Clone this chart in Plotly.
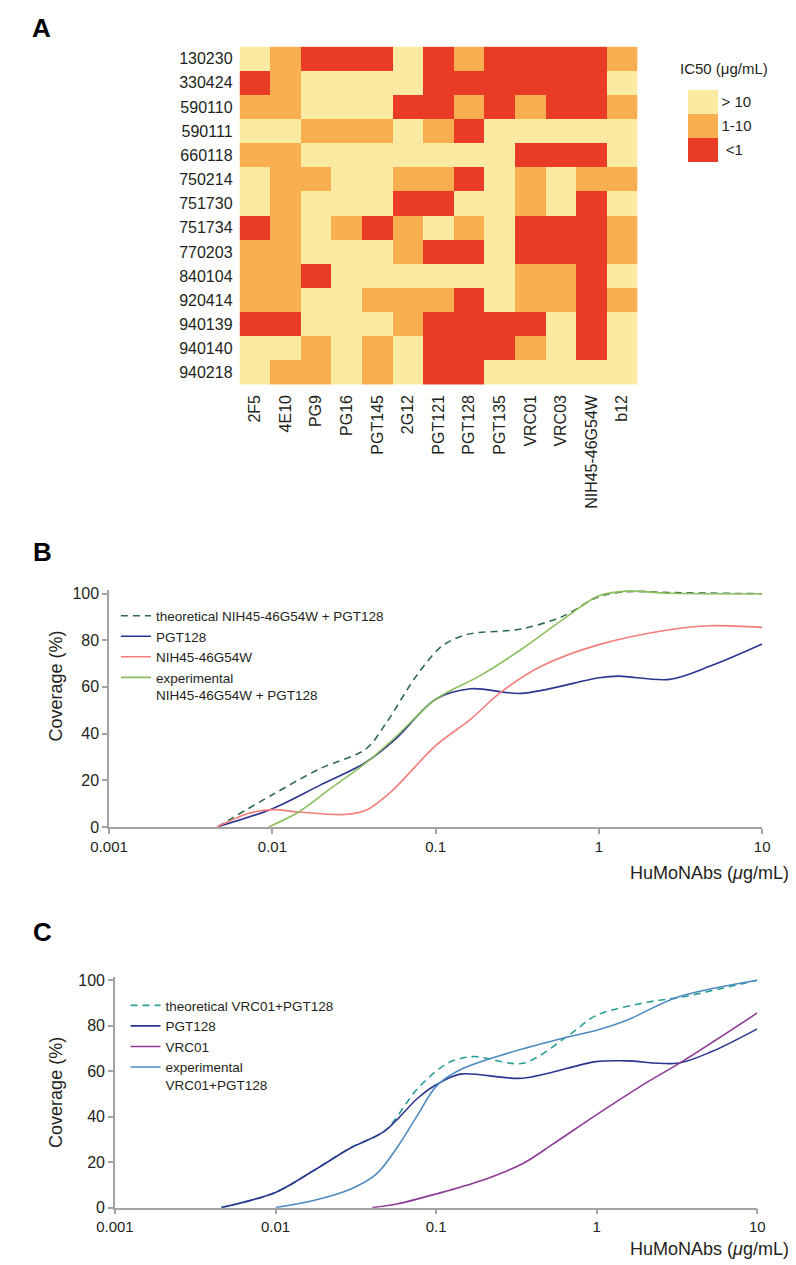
import plotly.graph_objects as go

W, H = 796, 1265

# ---------------- Panel A data ----------------
viruses = ["130230", "330424", "590110", "590111", "660118", "750214", "751730",
           "751734", "770203", "840104", "920414", "940139", "940140", "940218"]
antibodies = ["2F5", "4E10", "PG9", "PG16", "PGT145", "2G12", "PGT121", "PGT128",
              "PGT135", "VRC01", "VRC03", "NIH45-46G54W", "b12"]
# 0 = "> 10", 1 = "1-10", 2 = "<1"  (IC50, ug/mL)
ic50_class = [
    [0, 1, 2, 2, 2, 0, 2, 1, 2, 2, 2, 2, 1],
    [2, 1, 0, 0, 0, 0, 2, 2, 2, 2, 2, 2, 0],
    [1, 1, 0, 0, 0, 2, 2, 1, 2, 1, 2, 2, 1],
    [0, 0, 1, 1, 1, 0, 1, 2, 0, 0, 0, 0, 0],
    [1, 1, 0, 0, 0, 0, 0, 0, 0, 2, 2, 2, 0],
    [0, 1, 1, 0, 0, 1, 1, 2, 0, 1, 0, 1, 1],
    [0, 1, 0, 0, 0, 2, 2, 0, 0, 1, 0, 2, 0],
    [2, 1, 0, 1, 2, 1, 0, 1, 0, 2, 2, 2, 1],
    [1, 1, 0, 0, 0, 1, 2, 2, 0, 2, 2, 2, 1],
    [1, 1, 2, 0, 0, 0, 0, 0, 0, 1, 1, 2, 0],
    [1, 1, 0, 0, 1, 1, 1, 2, 0, 1, 1, 2, 1],
    [2, 2, 0, 0, 0, 1, 2, 2, 2, 2, 0, 2, 0],
    [0, 0, 1, 0, 1, 0, 2, 2, 2, 1, 0, 2, 0],
    [0, 1, 1, 0, 1, 0, 2, 2, 0, 0, 0, 0, 0],
]
class_labels = ["> 10", "1-10", " <1"]

# ---------------- Panel B data ----------------
theoB_x = [0.0046, 0.01, 0.0195, 0.0374, 0.05, 0.076, 0.109, 0.155, 0.334, 0.60, 1.0, 1.49, 2.7, 10]
theoB_y = [0, 13.8, 24.9, 33.4, 44.7, 64.6, 77.4, 82.4, 84.8, 90.2, 98.7, 100.8, 100.4, 99.9]
pgtB_x = [0.0046, 0.01, 0.0195, 0.0374, 0.0567, 0.1, 0.164, 0.334, 1.0, 1.32, 2.7, 4.8, 10]
pgtB_y = [0, 7.8, 17.8, 27.7, 37.6, 54.7, 59.2, 57.2, 63.9, 64.6, 63.2, 68.9, 78.4]
nihB_x = [0.0046, 0.0071, 0.01, 0.0145, 0.0278, 0.0374, 0.053, 0.1, 0.164, 0.249, 0.446, 1.0, 2.7, 4.8, 10]
nihB_y = [0, 5.7, 7.4, 6.4, 5.3, 7.1, 14.9, 34.8, 46.2, 57.5, 68.9, 78.1, 84.5, 86.2, 85.5]
expB_x = [0.0095, 0.0145, 0.0233, 0.0374, 0.0567, 0.1, 0.185, 0.334, 0.6, 1.0, 1.49, 2.7, 10]
expB_y = [0, 6.4, 17, 27.4, 38.4, 54.7, 64.6, 76, 88.8, 99, 101.0, 100.1, 99.9]

# ---------------- Panel C data ----------------
theoC_x = [0.0046, 0.01, 0.0172, 0.0295, 0.0477, 0.077, 0.118, 0.169, 0.347, 0.67, 1.0, 2.1, 3.4, 10]
theoC_y = [0, 6.7, 16.2, 26.5, 33.6, 52.5, 63.5, 66.4, 63.5, 75.8, 84.6, 90.4, 92.6, 100]
pgtC_x = [0.0046, 0.01, 0.0172, 0.0295, 0.0477, 0.077, 0.1, 0.141, 0.347, 0.99, 1.54, 3.2, 5.2, 10]
pgtC_y = [0, 6.7, 16.2, 26.3, 33.6, 48.2, 54, 58.7, 56.9, 64.2, 64.5, 63.5, 68.6, 78.6]
vrcC_x = [0.04, 0.057, 0.1, 0.19, 0.347, 0.53, 1.0, 2.1, 3.4, 10]
vrcC_y = [0, 1.6, 6, 11.8, 19.4, 27.8, 40.9, 55.5, 64.2, 85.6]
expC_x = [0.01, 0.0172, 0.0295, 0.0424, 0.057, 0.077, 0.1, 0.141, 0.257, 0.67, 1.0, 1.54, 3.2, 10]
expC_y = [0, 3.1, 8.2, 14.7, 26.3, 40.9, 53.3, 60.6, 67.1, 75.1, 78, 82.4, 92.6, 100]

x_tickvals = [0.001, 0.01, 0.1, 1, 10]
x_ticktext = ["0.001", "0.01", "0.1", "1", "10"]
y_tickvals = [0, 20, 40, 60, 80, 100]

# ---------------- styling ----------------
LIGHT, ORANGE, RED = "#FCEAA2", "#F9AE50", "#E93C26"
FONT = "Arial, Liberation Sans, sans-serif"
TXT = "#231F20"
AXC = "#A3A3A3"


def px(x):
    return x / W


def py(y):
    return 1 - y / H


fig = go.Figure()

# heatmap: reorder codes so colorbar reads top-to-bottom "> 10", "1-10", "<1"
zcode = [[2 - v for v in row] for row in ic50_class]
fig.add_trace(go.Heatmap(
    z=zcode, x=antibodies, y=viruses,
    zmin=-0.5, zmax=2.5,
    colorscale=[[0, RED], [1 / 3, RED], [1 / 3, ORANGE], [2 / 3, ORANGE], [2 / 3, LIGHT], [1, LIGHT]],
    xgap=0, ygap=0, hoverinfo="skip",
    colorbar=dict(
        x=px(684), xanchor="left", y=py(114), yanchor="middle",
        len=72, lenmode="pixels", thickness=30, thicknessmode="pixels",
        xpad=0, ypad=0, outlinewidth=0,
        tickvals=[2, 1, 0], ticktext=class_labels, ticks="", ticklabelposition="outside",
        tickfont=dict(family=FONT, size=15, color=TXT),
    ),
    xaxis="x", yaxis="y",
))

def line(x, y, name, color, dash="solid", xa="x2", ya="y2", legend="legend"):
    return go.Scatter(x=x, y=y, mode="lines", name=name,
                      line=dict(color=color, width=1.6, dash=dash, shape="spline", smoothing=0.9),
                      xaxis=xa, yaxis=ya, legend=legend, hoverinfo="skip")

fig.add_trace(line(theoB_x, theoB_y, "theoretical NIH45-46G54W + PGT128", "#2F6A47", dash="7px,5px"))
fig.add_trace(line(pgtB_x, pgtB_y, "PGT128", "#2B3590"))
fig.add_trace(line(nihB_x, nihB_y, "NIH45-46G54W", "#F27D7B"))
fig.add_trace(line(expB_x, expB_y, "experimental<br>NIH45-46G54W + PGT128", "#8DBE5C"))

fig.add_trace(line(theoC_x, theoC_y, "theoretical VRC01+PGT128", "#2B9E96", dash="7px,5px", xa="x3", ya="y3", legend="legend2"))
fig.add_trace(line(pgtC_x, pgtC_y, "PGT128", "#2B3590", xa="x3", ya="y3", legend="legend2"))
fig.add_trace(line(vrcC_x, vrcC_y, "VRC01", "#8E3B96", xa="x3", ya="y3", legend="legend2"))
fig.add_trace(line(expC_x, expC_y, "experimental<br>VRC01+PGT128", "#4E8AC2", xa="x3", ya="y3", legend="legend2"))

tickfont_x = dict(family=FONT, size=15, color=TXT)
tickfont_y = dict(family=FONT, size=16, color=TXT)

def xaxis_log(left, right):
    return dict(domain=[px(left), px(right)], type="log", range=[-3, 1],
                tickvals=x_tickvals, ticktext=x_ticktext, tickfont=tickfont_x,
                showgrid=False, zeroline=False, showline=True, linecolor=AXC, linewidth=1.5,
                ticks="outside", ticklen=5, tickcolor=AXC, tickwidth=1.5)

def yaxis_cov(y0, y100, anchor):
    top = 101.5
    ytop = y0 - (y0 - y100) * top / 100
    return dict(domain=[py(y0), py(ytop)], range=[0, top],
                tickvals=y_tickvals, tickfont=tickfont_y, anchor=anchor,
                showgrid=False, zeroline=False, showline=True, linecolor=AXC, linewidth=1.5,
                ticks="outside", ticklen=5, tickcolor=AXC, tickwidth=1.5)

legend_font = dict(family=FONT, size=13.5, color=TXT)

fig.update_layout(
    width=W, height=H, margin=dict(l=0, r=0, t=0, b=0),
    paper_bgcolor="white", plot_bgcolor="white",
    font=dict(family=FONT, color=TXT),
    xaxis=dict(domain=[px(220), px(632)], anchor="y", tickangle=-90, ticks="",
               tickfont=dict(family=FONT, size=16, color=TXT), showgrid=False, zeroline=False,
               showline=False, ticklabelstandoff=6),
    yaxis=dict(domain=[py(376), py(34)], anchor="x", autorange="reversed", ticks="",
               tickfont=dict(family=FONT, size=16, color=TXT), showgrid=False, zeroline=False,
               showline=False, ticklabelstandoff=6),
    xaxis2=xaxis_log(85, 761) | dict(anchor="y2"),
    yaxis2=yaxis_cov(823, 587, "x2"),
    xaxis3=xaxis_log(91, 756) | dict(anchor="y3"),
    yaxis3=yaxis_cov(1208, 978, "x3"),
    legend=dict(x=px(92), y=py(594), xanchor="left", yanchor="top", bgcolor="rgba(0,0,0,0)",
                font=legend_font, itemwidth=30, valign="top", tracegroupgap=0),
    legend2=dict(x=px(102), y=py(988), xanchor="left", yanchor="top", bgcolor="rgba(0,0,0,0)",
                 font=legend_font, itemwidth=30, valign="top", tracegroupgap=0),
)

annos = [
    dict(text="<b>A</b>", x=px(15), y=py(15)),
    dict(text="<b>B</b>", x=px(16), y=py(545)),
    dict(text="<b>C</b>", x=px(16), y=py(929)),
]
for a in annos:
    fig.add_annotation(xref="paper", yref="paper", showarrow=False, xanchor="center", yanchor="middle",
                       font=dict(family=FONT, size=26, color="#000"), **a)

fig.add_annotation(xref="paper", yref="paper", x=px(674), y=py(56), text="IC50 (μg/mL)",
                   showarrow=False, xanchor="left", yanchor="middle",
                   font=dict(family=FONT, size=15, color=TXT))

for yc in (680, 1091):
    fig.add_annotation(xref="paper", yref="paper", x=px(30), y=py(yc), text="Coverage (%)",
                       textangle=-90, showarrow=False, xanchor="center", yanchor="middle",
                       font=dict(family=FONT, size=18, color=TXT))
for yc in (870, 1250):
    fig.add_annotation(xref="paper", yref="paper", x=px(791), y=py(yc), text="HuMoNAbs (<i>μ</i>g/mL)",
                       showarrow=False, xanchor="right", yanchor="middle",
                       font=dict(family=FONT, size=18, color=TXT))

fig.write_html("out.html")
